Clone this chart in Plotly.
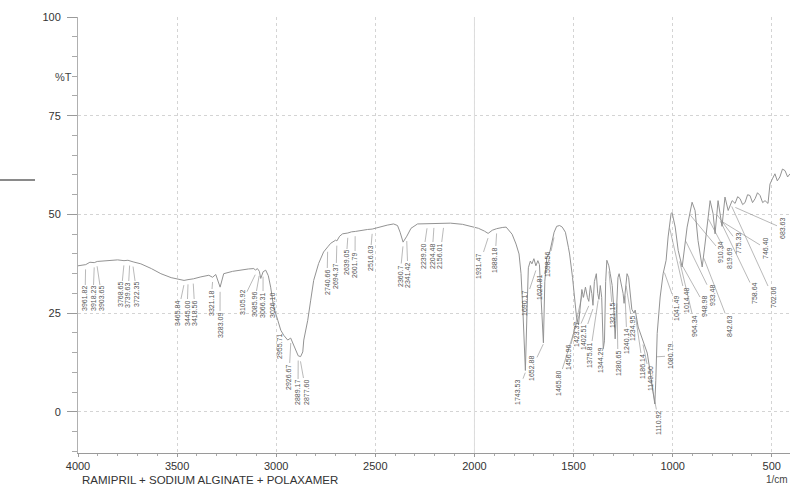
import numpy as np
import plotly.graph_objects as go

# ---------------- data ----------------
wavenumber = [4000, 3961, 3940, 3918, 3903, 3884, 3800, 3768, 3748, 3722, 3683, 3630, 3582, 3530,
              3496, 3465, 3445, 3418, 3380, 3340, 3321, 3305, 3283, 3265, 3220, 3179, 3140, 3113,
              3105, 3095, 3085, 3078, 3066, 3053, 3040, 3028, 3013, 2992, 2977, 2962, 2955, 2942,
              2927, 2912, 2892, 2889, 2877, 2866, 2861, 2841, 2826, 2811, 2786, 2761, 2740, 2725,
              2700, 2694, 2680, 2665, 2639, 2620, 2601, 2570, 2539, 2516, 2480, 2440, 2408, 2388,
              2375, 2360, 2341, 2320, 2287, 2239, 2204, 2156, 2121, 2060, 2020, 1980, 1950, 1931,
              1910, 1888, 1860, 1840, 1810, 1790, 1775, 1765, 1755, 1743, 1735, 1728, 1718, 1710,
              1700, 1690, 1680, 1672, 1665, 1652, 1645, 1635, 1620, 1607, 1598, 1585, 1570, 1557,
              1541, 1526, 1520, 1505, 1495, 1485, 1475, 1465, 1458, 1450, 1440, 1430, 1423, 1415,
              1408, 1402, 1395, 1385, 1378, 1372, 1365, 1358, 1350, 1344, 1338, 1332, 1322, 1315,
              1305, 1298, 1290, 1283, 1276, 1270, 1262, 1250, 1245, 1238, 1230, 1222, 1214, 1206,
              1195, 1189, 1174, 1160, 1149, 1128, 1110, 1100, 1090, 1085, 1078, 1063, 1048, 1033,
              1023, 1008, 1003, 987, 972, 952, 940, 927, 902, 887, 872, 851, 838, 826, 811, 796,
              786, 771, 751, 736, 720, 700, 685, 672, 660, 647, 635, 622, 610, 597, 584, 572, 559,
              546, 534, 519, 509, 497, 484, 472, 459, 446, 433, 420, 408]
transmittance = [37.0, 37.3, 37.9, 37.8, 38.1, 38.2, 38.5, 38.3, 38.4, 38.0, 37.5, 36.3, 35.0, 34.0,
                 33.6, 33.3, 33.5, 33.7, 34.2, 34.6, 34.1, 34.8, 31.6, 35.0, 35.6, 36.0, 36.2, 36.3,
                 35.9, 36.3, 35.6, 33.8, 35.5, 35.9, 34.5, 31.6, 26.6, 23.2, 20.7, 19.4, 19.0, 18.2,
                 18.7, 16.9, 14.4, 14.2, 14.0, 15.2, 18.2, 23.2, 28.3, 33.3, 37.6, 40.5, 41.8, 42.7,
                 43.5, 43.3, 44.5, 45.1, 45.3, 45.6, 45.7, 46.0, 46.2, 46.3, 46.8, 47.3, 47.6, 47.2,
                 45.5, 43.0, 44.5, 46.5, 47.6, 47.7, 47.8, 47.8, 47.8, 47.5, 47.0, 46.5, 45.8, 45.2,
                 46.0, 46.4, 46.7, 46.8, 45.0, 42.5, 40.0, 35.0, 25.0, 10.5, 25.0, 36.5, 38.2, 37.5,
                 38.8, 37.0, 38.3, 37.3, 30.0, 17.5, 33.0, 39.0, 40.5, 43.4, 45.5, 47.0, 47.2, 46.8,
                 45.5, 41.7, 40.0, 34.0, 28.0, 24.0, 22.0, 27.0, 31.0, 29.0, 31.6, 29.0, 28.0, 32.0,
                 30.0, 27.0, 33.0, 35.0, 30.0, 28.5, 32.0, 29.0, 16.0, 18.0, 33.0, 38.4, 37.0, 35.0,
                 32.0, 27.0, 18.5, 26.0, 34.0, 35.0, 33.0, 30.0, 27.5, 32.0, 35.0, 34.0, 30.0, 26.0,
                 25.0, 25.8, 21.5, 19.5, 18.2, 14.9, 9.0, 5.0, 2.0, 8.0, 19.9, 29.1, 35.0, 38.4,
                 44.3, 50.2, 50.5, 46.8, 40.9, 36.7, 42.0, 46.8, 53.1, 51.0, 43.4, 36.7, 42.0, 47.6,
                 53.5, 50.2, 45.1, 53.5, 47.0, 54.4, 51.0, 53.5, 52.8, 54.5, 54.0, 52.5, 53.0, 55.0,
                 54.8, 53.0, 54.0, 55.5, 54.8, 53.0, 53.5, 52.8, 57.7, 59.0, 60.3, 58.5, 59.5, 61.5,
                 61.1, 59.5, 60.3]

peak_positions = [3961.82, 3918.23, 3903.65, 3768.65, 3739.63, 3722.35, 3465.84, 3445.00, 3418.56,
                  3321.18, 3283.09, 3105.92, 3085.96, 3066.31, 3026.10, 2955.71, 2926.67, 2889.17,
                  2877.60, 2740.66, 2694.37, 2639.05, 2601.79, 2516.03, 2360.70, 2341.42, 2239.20,
                  2204.48, 2156.01, 1931.47, 1888.18, 1743.53, 1690.17, 1652.88, 1620.81, 1598.56,
                  1465.80, 1456.96, 1423.37, 1402.51, 1375.81, 1344.29, 1321.15, 1280.65, 1240.14,
                  1234.95, 1186.14, 1149.50, 1110.92, 1080.79, 1041.49, 1014.48, 964.34, 948.98,
                  933.48, 910.34, 842.63, 819.69, 775.33, 758.64, 746.40, 702.06, 683.63]
peak_labels = ["3961.82", "3918.23", "3903.65", "3768.65", "3739.63", "3722.35", "3465.84", "3445.00",
               "3418.56", "3321.18", "3283.09", "3105.92", "3085.96", "3066.31", "3026.10", "2955.71",
               "2926.67", "2889.17", "2877.60", "2740.66", "2694.37", "2639.05", "2601.79", "2516.03",
               "2360.7", "2341.42", "2239.20", "2204.48", "2156.01", "1931.47", "1888.18", "1743.53",
               "1690.17", "1652.88", "1620.81", "1598.56", "1465.80", "1456.96", "1423.37", "1402.51",
               "1375.81", "1344.29", "1321.15", "1280.65", "1240.14", "1234.95", "1186.14", "1149.50",
               "1110.92", "1080.79", "1041.49", "1014.48", "964.34", "948.98", "933.48", "910.34",
               "842.63", "819.69", "775.33", "758.64", "746.40", "702.06", "683.63"]

x_ticks = [4000, 3500, 3000, 2500, 2000, 1500, 1000, 500]
y_ticks = [0, 25, 50, 75, 100]

# ---------------- layout (label text placement, in page pixels) ----------------
label_place = [(85, 299), (93, 299), (102, 299), (121, 295), (128, 295), (137, 295), (178, 313),
               (187, 313), (195, 313), (211, 303), (220, 325), (242, 302), (254, 305), (263, 305),
               (273, 305), (280, 347), (289, 377), (298, 393), (306, 392), (327, 282), (336, 277),
               (346, 263), (355, 265), (370, 259), (400, 276), (408, 275), (423, 256), (432, 256),
               (440, 256), (479, 266), (495, 260), (518, 392), (525, 303), (532, 368), (540, 288),
               (548, 265), (558, 383), (568, 358), (576, 335), (583, 338), (590, 355), (601, 360),
               (613, 316), (618, 363), (627, 341), (633, 328), (643, 367), (650, 378), (659, 423),
               (670, 356), (677, 308), (686, 300), (695, 326), (705, 306), (712, 295), (721, 252),
               (730, 326), (729, 258), (738, 243), (755, 293), (765, 248), (773, 297), (782, 228)]

W, H = 790, 486
L, R, T_, B = 78, 0, 17, 33
XR = [4000, 408]
YR = [-10.4, 100]
PW, PH = W - L - R, H - T_ - B


def px(wn):
    return L + (XR[0] - wn) / (XR[0] - XR[1]) * PW


def py(t):
    return T_ + (YR[1] - t) / (YR[1] - YR[0]) * PH


fig = go.Figure()
fig.add_trace(go.Scatter(x=wavenumber, y=transmittance, mode="lines",
                         line=dict(color="#939393", width=1), hoverinfo="skip",
                         showlegend=False))

wn_asc = np.array(wavenumber[::-1], dtype=float)
t_asc = np.array(transmittance[::-1], dtype=float)

annotations = []
for wn, lab, (tx, ty) in zip(peak_positions, peak_labels, label_place):
    tcurve = float(np.interp(wn, wn_asc, t_asc))
    hy = tcurve - 1.2
    annotations.append(dict(
        x=wn, y=hy, xref="x", yref="y", text=lab, textangle=-90,
        showarrow=True, arrowhead=0, arrowwidth=0.6, arrowcolor="#8a8a8a",
        ax=tx - px(wn), ay=ty - py(hy), standoff=0,
        font=dict(family="Liberation Sans", size=7, color="#555555")))

annotations += [
    dict(text="%T", x=(53 - L) / PW, y=(T_ + PH - 69) / PH, xref="paper", yref="paper",
         showarrow=False, font=dict(family="Liberation Sans", size=11, color="#444444")),
    dict(text="RAMIPRIL + SODIUM ALGINATE + POLAXAMER", x=(80 - L) / PW, xanchor="left",
         y=(T_ + PH - 480) / PH, yanchor="middle", xref="paper", yref="paper",
         showarrow=False, font=dict(family="Liberation Sans", size=11.5, color="#333333")),
    dict(text="1/cm", x=1.0, xanchor="right", y=(T_ + PH - 480) / PH, yanchor="middle",
         xref="paper", yref="paper", showarrow=False,
         font=dict(family="Liberation Sans", size=10, color="#444444")),
]

shapes = [
    dict(type="line", xref="x", yref="paper", x0=2000, x1=2000, y0=0, y1=1,
         line=dict(color="#dcdcdc", width=1)),
    dict(type="line", xref="paper", yref="paper", x0=(0 - L) / PW, x1=(35 - L) / PW,
         y0=(T_ + PH - 180) / PH, y1=(T_ + PH - 180) / PH, line=dict(color="#8a8a8a", width=2)),
]

fig.update_layout(
    width=W, height=H, margin=dict(l=L, r=R, t=T_, b=B, pad=0),
    paper_bgcolor="white", plot_bgcolor="white",
    annotations=annotations, shapes=shapes,
    xaxis=dict(range=XR, tickvals=x_ticks, ticktext=[str(v) for v in x_ticks],
               showline=True, linecolor="#9a9a9a", linewidth=1,
               ticks="outside", ticklen=3, tickcolor="#9a9a9a",
               showgrid=True, gridcolor="#d4d4d4", griddash="dot", gridwidth=1,
               zeroline=False,
               minor=dict(dtick=100, ticks="outside", ticklen=2, tickcolor="#aaaaaa", showgrid=False),
               tickfont=dict(family="Liberation Sans", size=11, color="#333333")),
    yaxis=dict(range=YR, tickvals=y_ticks, ticktext=[str(v) for v in y_ticks],
               showline=True, linecolor="#b0b0b0", linewidth=1,
               ticks="outside", ticklen=10, tickcolor="#9a9a9a", ticklabelstandoff=4,
               showgrid=True, gridcolor="#d4d4d4", griddash="dot", gridwidth=1,
               zeroline=False,
               minor=dict(dtick=5, ticks="outside", ticklen=5, tickcolor="#aaaaaa", showgrid=False),
               tickfont=dict(family="Liberation Sans", size=11, color="#333333")),
)

fig.write_html("out.html", config={"displayModeBar": False},
               post_script="document.body.style.margin='0';document.body.style.overflow='hidden';")
